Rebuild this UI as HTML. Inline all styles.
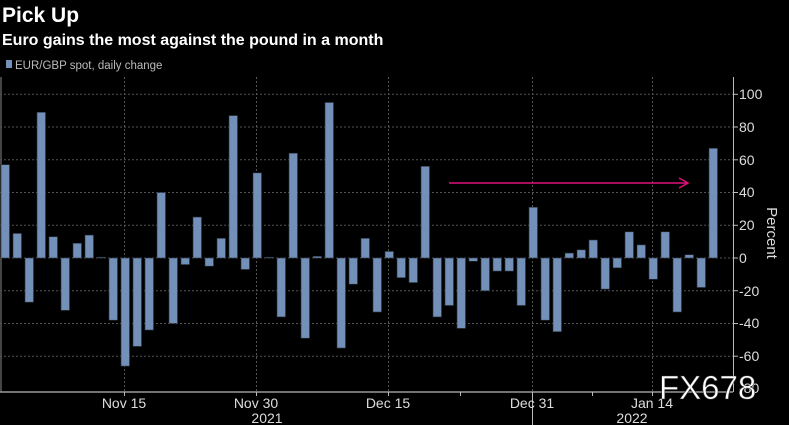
<!DOCTYPE html>
<html><head><meta charset="utf-8"><style>
body{margin:0;background:#000;width:789px;height:425px;overflow:hidden;font-family:"Liberation Sans",sans-serif;}
</style></head><body>
<svg width="789" height="425" xmlns="http://www.w3.org/2000/svg" style="position:absolute;left:0;top:0">
<rect width="789" height="425" fill="#000"/>
<text x="2" y="22" fill="#fff" font-size="21" font-weight="bold">Pick Up</text>
<text x="2" y="45" fill="#fff" font-size="16" font-weight="bold">Euro gains the most against the pound in a month</text>
<rect x="6" y="60" width="6" height="8" fill="#7390b8"/>
<text x="15" y="69" fill="#bbb" font-size="11.5">EUR/GBP spot, daily change</text>
<line x1="1" y1="77" x2="1" y2="392" stroke="#888" stroke-width="1"/>
<g stroke="#555" stroke-dasharray="2,2" stroke-width="1">
<line x1="0" y1="94.3" x2="733" y2="94.3"/><line x1="0" y1="127" x2="733" y2="127"/>
<line x1="0" y1="159.8" x2="733" y2="159.8"/><line x1="0" y1="192.5" x2="733" y2="192.5"/>
<line x1="0" y1="225.3" x2="733" y2="225.3"/><line x1="0" y1="258" x2="733" y2="258"/>
<line x1="0" y1="290.7" x2="733" y2="290.7"/><line x1="0" y1="323.5" x2="733" y2="323.5"/>
<line x1="0" y1="356.2" x2="733" y2="356.2"/>
<line x1="124.5" y1="77" x2="124.5" y2="392"/><line x1="256.5" y1="77" x2="256.5" y2="392"/>
<line x1="388.5" y1="77" x2="388.5" y2="392"/><line x1="532.5" y1="77" x2="532.5" y2="392"/>
<line x1="652.5" y1="77" x2="652.5" y2="392"/>
</g>
<g id="bars" fill="#7390b8" stroke="#2a3340" stroke-width="0.6"></g>
<line x1="449" y1="183" x2="687" y2="183" stroke="#e0107a" stroke-width="1.5"/>
<polyline points="679,178 688,183 679,188" fill="none" stroke="#e0107a" stroke-width="1.5"/>
<line x1="733.5" y1="77" x2="733.5" y2="392" stroke="#bbb"/>
<line x1="0" y1="392" x2="733" y2="392" stroke="#999" stroke-width="1.5"/>
<g stroke="#bbb"><line x1="733" y1="94.3" x2="738" y2="94.3"/><line x1="733" y1="127" x2="738" y2="127"/><line x1="733" y1="159.8" x2="738" y2="159.8"/><line x1="733" y1="192.5" x2="738" y2="192.5"/><line x1="733" y1="225.3" x2="738" y2="225.3"/><line x1="733" y1="258" x2="738" y2="258"/><line x1="733" y1="290.7" x2="738" y2="290.7"/><line x1="733" y1="323.5" x2="738" y2="323.5"/><line x1="733" y1="356.2" x2="738" y2="356.2"/>
<line x1="124.5" y1="392" x2="124.5" y2="396"/><line x1="256.5" y1="392" x2="256.5" y2="396"/><line x1="388.5" y1="392" x2="388.5" y2="396"/><line x1="460.5" y1="392" x2="460.5" y2="396"/><line x1="532.5" y1="392" x2="532.5" y2="425"/><line x1="592.5" y1="392" x2="592.5" y2="396"/><line x1="652.5" y1="392" x2="652.5" y2="396"/></g>
<g fill="#ddd" font-size="14">
<text x="739" y="99">100</text><text x="739" y="132">80</text><text x="739" y="165">60</text><text x="739" y="197">40</text><text x="739" y="230">20</text><text x="739" y="263">0</text><text x="739" y="296">-20</text><text x="739" y="328">-40</text><text x="739" y="361">-60</text><text x="739" y="393">-80</text>
<text x="124" y="408" text-anchor="middle">Nov 15</text><text x="256" y="408" text-anchor="middle">Nov 30</text><text x="388" y="408" text-anchor="middle">Dec 15</text><text x="532" y="408" text-anchor="middle">Dec 31</text><text x="652" y="408" text-anchor="middle">Jan 14</text>
<text x="267" y="423" text-anchor="middle">2021</text><text x="632" y="423" text-anchor="middle">2022</text>
<text transform="translate(767,233) rotate(90)" text-anchor="middle" font-size="15">Percent</text>
</g>
<text x="659" y="399" fill="#fff" stroke="#333" stroke-width="0.6" font-size="33">FX678</text>
</svg>
<script>
var v=[57,15,-27,89,13,-32,9,14,0.5,-38,-66,-54,-44,40,-40,-4,25,-5,12,87,-7,52,0.5,-36,64,-49,1,95,-55,-16,12,-33,4,-12,-15,56,-36,-29,-43,-2,-20,-8,-8,-29,31,-38,-45,3,5,11,-19,-6,16,8,-13,16,-33,2,-18,67];
var g=document.getElementById('bars'),s='';
v.forEach(function(d,i){var h=Math.abs(d)*1.637,y=d>0?258-h:258;s+='<rect x="'+(1+12*i)+'" y="'+y+'" width="8.5" height="'+h+'"/>';});
g.innerHTML=s;
</script>
</body></html>
